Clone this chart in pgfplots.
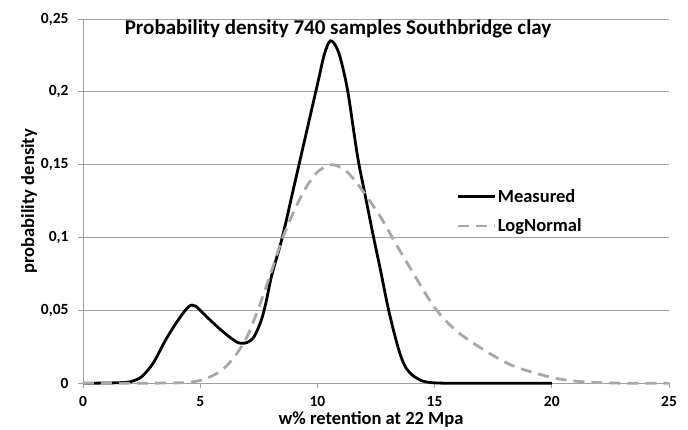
\documentclass[border=0pt]{standalone}
\usepackage{fontspec}
\setmainfont{Carlito}
\usepackage{pgfplots}
\pgfplotsset{compat=1.18}
\definecolor{lngray}{HTML}{A8A8A8}
\definecolor{gridgray}{HTML}{A0A0A0}
\begin{document}
\begin{tikzpicture}
\useasboundingbox (-83pt,-45.7pt) rectangle (605pt,383.3pt);
\begin{axis}[
  at={(0pt,0pt)}, anchor=south west,
  width=586pt, height=364.3pt, scale only axis,
  xmin=0, xmax=25, ymin=0, ymax=0.25,
  axis x line*=bottom, axis y line*=left,
  axis line style={gridgray, line width=0.8pt, -},
  xtick={0,5,10,15,20,25},
  ytick={0,0.05,0.1,0.15,0.2,0.25},
  yticklabels={0,{0,05},{0,1},{0,15},{0,2},{0,25}},
  tick align=outside, major tick length=5pt,
  tick style={gridgray, line width=0.8pt},
  ymajorgrids, grid style={gridgray, line width=0.8pt},
  tick label style={font=\fontsize{15.5}{17}\selectfont\bfseries},
  /pgf/number format/assume math mode=true,
  xticklabel style={inner sep=0.5pt, yshift=-7pt},
  yticklabel style={xshift=-6pt},
  xlabel={w\% retention at 22 Mpa},
  ylabel={probability density},
  xlabel style={at={(axis description cs:0.4915,-0.113)}, anchor=base, inner sep=0pt, font=\fontsize{18.5}{20}\selectfont\bfseries},
  ylabel style={at={(axis description cs:-0.0922,0.5)}, anchor=center, font=\fontsize{18.5}{20}\selectfont\bfseries},
  legend style={at={(axis cs:15.95,0.134)}, anchor=north west, draw=none, fill=none,
    font=\fontsize{18.5}{20}\selectfont\bfseries, row sep=13pt, inner sep=0pt,
    nodes={inner sep=1pt}},
  legend cell align=left,
  legend image code/.code={\draw[#1] (0pt,0pt) -- (37pt,0pt);},
  clip=false,
]
\addplot[black, line width=2.8pt, smooth, tension=0.5] coordinates {
(0,0) (1,0.0002) (1.5,0.0004) (2,0.001) (2.5,0.0045) (3,0.014) (3.5,0.029)
(4,0.042) (4.5,0.0525) (4.8,0.053) (5.25,0.046) (6,0.035) (6.6,0.028)
(7,0.028) (7.3,0.032) (7.6,0.043) (7.8,0.055) (8.05,0.074) (8.5,0.100)
(9,0.135) (9.5,0.170) (10,0.205) (10.3,0.226) (10.55,0.235) (10.8,0.231)
(11.0,0.222) (11.3,0.200) (11.7,0.157) (12.0,0.132) (12.4,0.100) (12.7,0.077)
(13.0,0.053) (13.3,0.033) (13.55,0.019) (13.8,0.010) (14.1,0.005) (14.5,0.0015)
(15,0.0003) (16,0) (18,0) (20,0)
};
\addlegendentry{Measured}
\addplot[lngray, line width=2.8pt, smooth, tension=0.5, dash pattern=on 11pt off 7pt] coordinates {
(0,0) (2,0) (3,0.0001) (4,0.0003) (4.5,0.0006) (5,0.002) (5.5,0.005) (6,0.010)
(6.5,0.019) (7,0.032) (7.5,0.052) (8,0.075) (8.5,0.099) (9,0.118) (9.5,0.134)
(10,0.145) (10.6,0.150) (11.2,0.146) (11.8,0.135) (12.7,0.114) (13.3,0.097)
(14.0,0.078) (15.0,0.052) (16.0,0.035) (17.5,0.019) (18.5,0.011) (20.0,0.004)
(21,0.0015) (22,0.0005) (23,0.0001) (25,0)
};
\addlegendentry{LogNormal}
\node[font=\fontsize{21}{23}\selectfont\bfseries] at (axis cs:10.88,0.2432) {Probability density 740 samples Southbridge clay};
\end{axis}
\end{tikzpicture}
\end{document}
